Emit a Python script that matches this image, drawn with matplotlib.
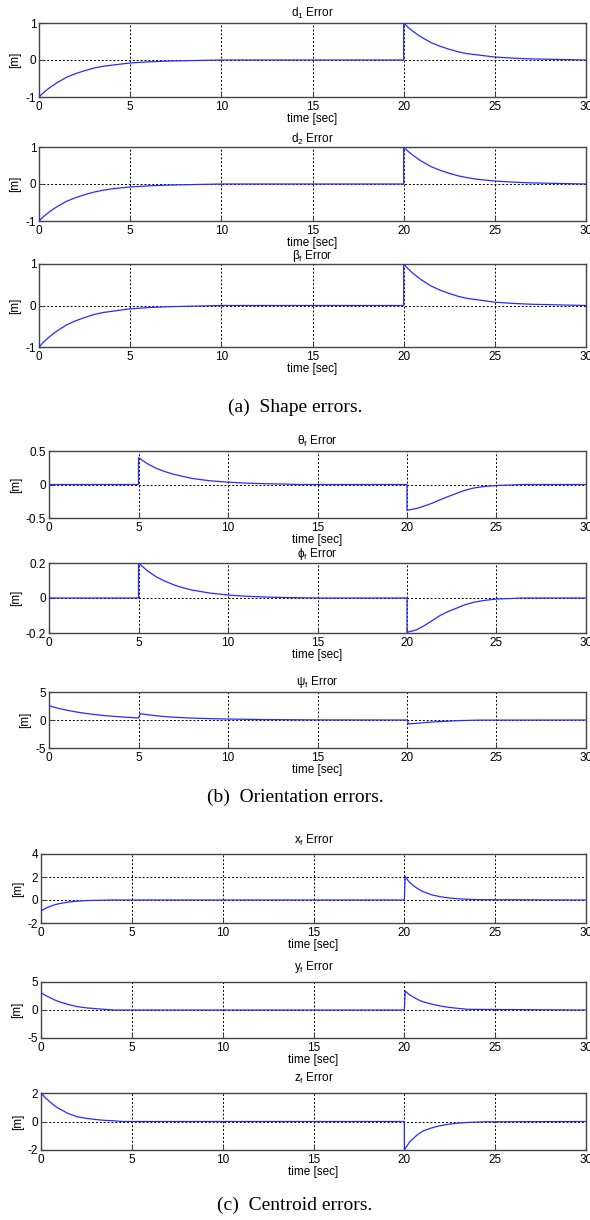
import matplotlib
matplotlib.use('Agg')
from matplotlib import pyplot as plt

plt.rcParams['font.family'] = ['Liberation Sans', 'DejaVu Sans']
plt.rcParams['mathtext.fontset'] = 'custom'
plt.rcParams['mathtext.rm'] = 'Liberation Sans'
plt.rcParams['mathtext.it'] = 'Liberation Sans:italic'

#%% data
# (a) shape errors
d1_t = [0, 0.25, 0.5, 0.75, 1, 1.5, 2, 2.5, 3, 3.5, 4, 5, 6, 7, 8, 9, 10, 20, 20, 20.25, 20.5, 20.75, 21, 21.5, 22, 22.5, 23, 23.5, 24, 25, 26, 27, 28, 29, 30]
d1_v = [-1, -0.88, -0.78, -0.69, -0.61, -0.47, -0.37, -0.29, -0.22, -0.17, -0.14, -0.08, -0.05, -0.03, -0.02, -0.01, 0, 0, 1, 0.88, 0.78, 0.69, 0.61, 0.47, 0.37, 0.29, 0.22, 0.17, 0.14, 0.08, 0.05, 0.03, 0.02, 0.01, 0]
d2_t = d1_t
d2_v = [-1, -0.88, -0.78, -0.69, -0.61, -0.47, -0.37, -0.29, -0.22, -0.17, -0.13, -0.08, -0.05, -0.03, -0.02, -0.01, 0, 0, 1, 0.88, 0.78, 0.69, 0.61, 0.47, 0.37, 0.29, 0.22, 0.17, 0.13, 0.08, 0.05, 0.03, 0.02, 0.01, 0]
beta_t = d1_t
beta_v = [-1, -0.88, -0.78, -0.69, -0.61, -0.47, -0.37, -0.29, -0.22, -0.17, -0.14, -0.08, -0.05, -0.03, -0.02, -0.01, 0, 0, 1, 0.88, 0.78, 0.69, 0.61, 0.47, 0.37, 0.29, 0.22, 0.17, 0.14, 0.08, 0.05, 0.03, 0.02, 0.01, 0]

# (b) orientation errors
theta_t = [0, 5, 5, 5.5, 6, 6.5, 7, 7.5, 8, 9, 10, 11, 12, 13, 14, 20, 20, 20.5, 20.9, 21.4, 21.85, 22.3, 22.8, 23.2, 23.7, 24.3, 25, 26.5, 30]
theta_v = [0, 0, 0.40, 0.31, 0.24, 0.19, 0.15, 0.12, 0.09, 0.055, 0.035, 0.02, 0.012, 0.007, 0, 0, -0.385, -0.36, -0.327, -0.28, -0.228, -0.18, -0.129, -0.09, -0.054, -0.03, -0.015, 0, 0]
phi_t = [0, 5, 5, 5.5, 6, 6.5, 7, 7.5, 8, 9, 10, 11, 12, 13, 15, 20, 20, 20.5, 20.9, 21.4, 21.85, 22.3, 22.8, 23.2, 23.7, 24.3, 25, 26.5, 30]
phi_v = [0, 0, 0.20, 0.155, 0.12, 0.095, 0.074, 0.058, 0.045, 0.028, 0.017, 0.01, 0.006, 0.003, 0, 0, -0.196, -0.183, -0.162, -0.13, -0.10, -0.077, -0.057, -0.04, -0.025, -0.014, -0.006, 0, 0]
psi_t = [0, 0.5, 1, 1.5, 2, 2.5, 3, 3.5, 4, 4.5, 5, 5.1, 5.5, 6, 6.5, 7, 8, 9, 10, 12, 15, 20, 20.1, 20.5, 21, 21.5, 22, 23, 24, 30]
psi_v = [2.55, 2.1, 1.75, 1.45, 1.2, 1.0, 0.82, 0.68, 0.56, 0.46, 0.36, 1.12, 0.95, 0.75, 0.6, 0.49, 0.34, 0.24, 0.17, 0.08, 0.02, 0, -0.7, -0.6, -0.45, -0.34, -0.25, -0.1, -0.02, 0]

# (c) centroid errors
xf_t = [0, 0.25, 0.5, 0.75, 1, 1.5, 2, 2.5, 3, 4, 20, 20.05, 20.25, 20.5, 20.75, 21, 21.5, 22, 22.5, 23, 24, 30]
xf_v = [-0.95, -0.72, -0.55, -0.42, -0.32, -0.18, -0.1, -0.05, -0.03, 0, 0, 2.05, 1.6, 1.25, 0.97, 0.75, 0.45, 0.28, 0.17, 0.1, 0.03, 0]
yf_t = [0, 0.25, 0.5, 0.75, 1, 1.5, 2, 2.5, 3, 3.5, 4, 20, 20.05, 20.25, 20.5, 20.75, 21, 21.5, 22, 22.5, 23, 23.5, 30]
yf_v = [3.1, 2.6, 2.2, 1.8, 1.47, 0.98, 0.6, 0.38, 0.24, 0.12, 0, 0, 3.4, 2.8, 2.3, 1.85, 1.5, 1.05, 0.7, 0.45, 0.28, 0.12, 0]
zf_t = [0, 0.25, 0.5, 0.75, 1, 1.5, 2, 2.5, 3, 3.5, 4, 4.5, 20, 20, 20.3, 20.7, 21.05, 21.5, 21.95, 22.4, 22.9, 23.4, 23.8, 24.5, 30]
zf_v = [2.0, 1.65, 1.37, 1.1, 0.9, 0.56, 0.33, 0.22, 0.14, 0.08, 0.05, 0, 0, -2.0, -1.42, -0.95, -0.65, -0.45, -0.3, -0.2, -0.12, -0.07, -0.05, -0.02, 0]

titles = ['d$_1$ Error', 'd$_2$ Error', 'β$_\\mathrm{f}$ Error',
          'θ$_\\mathrm{f}$ Error', 'ϕ$_\\mathrm{f}$ Error', 'ψ$_\\mathrm{f}$ Error',
          'x$_\\mathrm{f}$ Error', 'y$_\\mathrm{f}$ Error', 'z$_\\mathrm{f}$ Error']
series = [(d1_t, d1_v), (d2_t, d2_v), (beta_t, beta_v),
          (theta_t, theta_v), (phi_t, phi_v), (psi_t, psi_v),
          (xf_t, xf_v), (yf_t, yf_v), (zf_t, zf_v)]
yticks = [[-1, 0, 1], [-1, 0, 1], [-1, 0, 1],
          [-0.5, 0, 0.5], [-0.2, 0, 0.2], [-5, 0, 5],
          [-2, 0, 2, 4], [-5, 0, 5], [-2, 0, 2]]
xticks = [0, 5, 10, 15, 20, 25, 30]
captions = ['(a)  Shape errors.', '(b)  Orientation errors.', '(c)  Centroid errors.']

#%% layout in pixels: (left, top, bottom), title pad in points
W, H = 590, 1220
right = 586
boxes = [(39, 23, 97), (39, 147, 221), (39, 264, 347),
         (49, 451, 518), (49, 563, 633), (49, 692, 748),
         (41, 854, 923), (41, 982, 1038), (41, 1093, 1150)]
tpads = [4.7, 3.2, 1.1, 4.7, 4.0, 4.7, 7.6, 8.3, 8.3]
caption_y = [407, 797, 1205]

fig = plt.figure(figsize=(W / 100, H / 100), dpi=100)

fs = 8.5
for k in range(9):
    l, t, b = boxes[k]
    ax = fig.add_axes([l / W, 1 - b / H, (right - l) / W, (b - t) / H])
    ax.plot(series[k][0], series[k][1], color='#2a2aff', lw=0.9, zorder=3)
    ax.set_xlim(0, 30)
    ax.set_ylim(yticks[k][0], yticks[k][-1])
    ax.set_xticks(xticks)
    ax.set_yticks(yticks[k])
    ax.set_xticklabels([str(x) for x in xticks])
    ax.set_yticklabels([('%g' % y) for y in yticks[k]])
    ax.grid(True, color='black', lw=0.7, linestyle=(0, (2, 2)), zorder=1)
    ax.tick_params(direction='in', length=3, labelsize=fs, color='#404040')
    ax.tick_params(axis='x', pad=3)
    ax.tick_params(axis='y', pad=2)
    for s in ax.spines.values():
        s.set_color('#444444')
        s.set_linewidth(1.0)
    ax.set_title(titles[k], fontsize=fs, pad=tpads[k])
    ax.set_xlabel('time [sec]', fontsize=fs, labelpad=0)
    ax.set_ylabel('[m]', fontsize=fs, labelpad=3)

for i in range(3):
    fig.text(0.5, 1 - caption_y[i] / H, captions[i], ha='center', va='center',
             fontsize=14, family='Liberation Serif')

fig.savefig('out.png', dpi=100)
